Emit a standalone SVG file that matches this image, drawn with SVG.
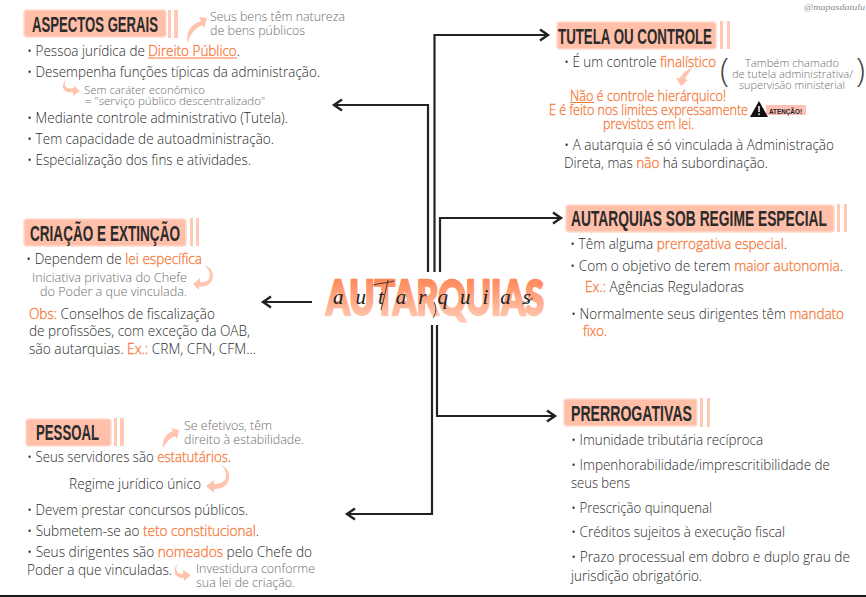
<svg xmlns="http://www.w3.org/2000/svg" width="866" height="597" viewBox="0 0 866 597">
<style>
text{font-family:"Open Sans","Noto Sans","Liberation Sans",sans-serif;font-weight:300;white-space:pre}
.b{font-size:14px;fill:#2b2b2b}
.g{font-size:12.5px;fill:#6e6e6e}
.s{font-size:11.500px;fill:#6e6e6e}
.o{fill:#f5793a;stroke:#f5793a;stroke-width:.3}
.t{font-family:"Liberation Sans Narrow","Liberation Sans",sans-serif;font-weight:700;font-size:22px;fill:#2b2b2b}
.box{fill:#ffbfa9;stroke:#ffd9cb;stroke-width:1.5}
.st{fill:#ffc9b6}
.a{fill:#ffc3ae}
.c{fill:none;stroke:#222;stroke-width:2.2}
.l{stroke:#f5793a;stroke-width:1;fill:none}
.f{fill:none;stroke:#222;stroke-width:.8}
</style>
<defs>
<marker id="h" markerUnits="userSpaceOnUse" markerWidth="14" markerHeight="14" refX="10" refY="7" orient="auto" overflow="visible">
<path d="M2 1.5L10 7L2 12.5" fill="none" stroke="#222" stroke-width="2.4"/>
</marker>
<linearGradient id="gr" x1="0" y1="0" x2="0" y2="1"><stop offset="0" stop-color="#ff7743"/><stop offset="1" stop-color="#ffd3bf"/></linearGradient>
</defs>
<rect width="866" height="597" fill="#fff"/>
<rect x="0" y="595" width="866" height="2" fill="#1a1a1a"/>
<g id="connectors">
<path class="c" marker-end="url(#h)" d="M428 272V105H334"/>
<path class="c" marker-end="url(#h)" d="M434.500 272V35H548"/>
<path class="c" marker-end="url(#h)" d="M440 272V218H561"/>
<path class="c" marker-end="url(#h)" d="M312 302H263"/>
<path class="c" marker-end="url(#h)" d="M432 325V514H347"/>
<path class="c" marker-end="url(#h)" d="M437 325V416H555"/>
</g>
<g id="center">
<text x="326" y="315" textLength="218" lengthAdjust="spacingAndGlyphs" fill="url(#gr)" stroke="url(#gr)" stroke-width="2.500" stroke-linejoin="round" style="font-family:Lato,'Liberation Sans',sans-serif;font-weight:900;font-size:47px">AUTARQUIAS</text>
<text x="333" y="304" textLength="198" style="font-family:'Liberation Serif',serif;font-style:italic;font-size:21px;font-weight:400;fill:#222">autarquias</text>
<path class="f" d="M373 285C380 283 388 283 394 281M388 280C386 290 383 302 381 310M434 302C437 307 436 314 433 318M522 304C526 303 530 300 533 298"/>
</g>
<g id="aspectos-gerais">
<rect class="box" x="24" y="10" width="142" height="27" rx="3"/>
<rect class="st" x="168" y="10" width="3" height="28"/><rect class="st" x="174" y="10" width="4" height="28"/>
<text class="t" x="32" y="32" textLength="126" lengthAdjust="spacingAndGlyphs">ASPECTOS GERAIS</text>
<path class="a" d="M188 43C185 31 193 23 201 21L199 17L207 18L204 28L202 25C196 28 190 33 188 43Z"/>
<text class="g" x="210" y="21" textLength="135" lengthAdjust="spacingAndGlyphs">Seus bens têm natureza</text>
<text class="g" x="210" y="35" textLength="95" lengthAdjust="spacingAndGlyphs">de bens públicos</text>
<text class="b" x="27" y="56" textLength="213" lengthAdjust="spacingAndGlyphs">• Pessoa jurídica de <tspan class="o">Direito Público</tspan>.</text>
<path class="l" d="M148 58H237"/>
<text class="b" x="27" y="77" textLength="293" lengthAdjust="spacingAndGlyphs">• Desempenha funções típicas da administração.</text>
<path class="a" d="M67 79C62 85 66 90 74 88L73 85L80 91L73 96L73 92C64 94 59 86 67 79Z"/>
<text class="s" x="84" y="94" textLength="121" lengthAdjust="spacingAndGlyphs">Sem caráter econômico</text>
<text class="s" x="85" y="105" textLength="180" lengthAdjust="spacingAndGlyphs">= "serviço público descentralizado"</text>
<text class="b" x="27" y="123" textLength="261" lengthAdjust="spacingAndGlyphs">• Mediante controle administrativo (Tutela).</text>
<text class="b" x="27" y="144" textLength="247" lengthAdjust="spacingAndGlyphs">• Tem capacidade de autoadministração.</text>
<text class="b" x="27" y="165" textLength="224" lengthAdjust="spacingAndGlyphs">• Especialização dos fins e atividades.</text>
</g>
<g id="tutela-ou-controle">
<rect class="box" x="557" y="22" width="159" height="27" rx="3"/>
<rect class="st" x="720" y="21" width="3" height="28"/><rect class="st" x="727" y="21" width="3" height="28"/>
<text class="t" x="558" y="44" textLength="154" lengthAdjust="spacingAndGlyphs">TUTELA OU CONTROLE</text>
<text class="b" x="564" y="67" textLength="152" lengthAdjust="spacingAndGlyphs">• É um controle <tspan class="o">finalístico</tspan></text>
<path class="a" d="M692 68C689 73 686 76 685 79L688 80L681 86L676 78L680 78C682 74 686 70 692 68Z"/>
<text x="720" y="82" style="font-size:33px;fill:#444">(</text>
<text x="856" y="82" style="font-size:33px;fill:#444">)</text>
<text class="s" x="745" y="67" textLength="94" lengthAdjust="spacingAndGlyphs">Também chamado</text>
<text class="s" x="732" y="78" textLength="121" lengthAdjust="spacingAndGlyphs">de tutela administrativa/</text>
<text class="s" x="739" y="89" textLength="106" lengthAdjust="spacingAndGlyphs">supervisão ministerial</text>
<text class="b o" x="570" y="101" textLength="156" lengthAdjust="spacingAndGlyphs">Não é controle hierárquico!</text>
<path class="l" d="M570 102.500H594"/>
<text class="b o" x="549" y="115" textLength="199" lengthAdjust="spacingAndGlyphs">E é feito nos limites expressamente</text>
<text class="b o" x="603" y="129" textLength="91" lengthAdjust="spacingAndGlyphs">previstos em lei.</text>
<rect x="766" y="105" width="40" height="10" rx="1" fill="#ffc0b8"/>
<path d="M759 101L768 117H750Z" fill="#111"/>
<path d="M759 106V112M759 113.500V115" stroke="#fff" stroke-width="1.500"/>
<text x="769" y="114" textLength="33" lengthAdjust="spacingAndGlyphs" style="font-family:'Liberation Sans Narrow','Liberation Sans',sans-serif;font-size:8px;font-weight:700;fill:#222">ATENÇÃO!</text>
<text class="b" x="564" y="150" textLength="270" lengthAdjust="spacingAndGlyphs">• A autarquia é só vinculada à Administração</text>
<text class="b" x="564" y="168" textLength="204" lengthAdjust="spacingAndGlyphs">Direta, mas <tspan class="o">não</tspan> há subordinação.</text>
</g>
<g id="watermark"><text x="804" y="10" textLength="61" lengthAdjust="spacingAndGlyphs" style="font-family:'Liberation Serif',serif;font-style:italic;font-size:9px;font-weight:400;fill:#8a8a8a">@mapasdatulu</text></g>
<g id="criacao-e-extincao">
<rect class="box" x="24" y="219" width="162" height="27" rx="3"/>
<rect class="st" x="190" y="218" width="3" height="28"/><rect class="st" x="196" y="218" width="3" height="28"/>
<text class="t" x="30" y="241" textLength="150" lengthAdjust="spacingAndGlyphs">CRIAÇÃO E EXTINÇÃO</text>
<text class="b" x="26" y="264" textLength="176" lengthAdjust="spacingAndGlyphs">• Dependem de <tspan class="o">lei específica</tspan></text>
<path class="a" d="M204 265C213 268 215 276 211 282C207 287 202 287 199 286L199 290L193 284L200 278L200 282C206 283 210 280 210 275C210 271 208 268 204 265Z"/>
<text class="g" x="32" y="282" textLength="155" lengthAdjust="spacingAndGlyphs">Iniciativa privativa do Chefe</text>
<text class="g" x="40" y="296" textLength="147" lengthAdjust="spacingAndGlyphs">do Poder a que vinculada.</text>
<text class="b" x="29" y="319" textLength="186" lengthAdjust="spacingAndGlyphs"><tspan class="o">Obs:</tspan> Conselhos de fiscalização</text>
<text class="b" x="29" y="336" textLength="221" lengthAdjust="spacingAndGlyphs">de profissões, com exceção da OAB,</text>
<text class="b" x="29" y="354" textLength="227" lengthAdjust="spacingAndGlyphs">são autarquias. <tspan class="o">Ex.:</tspan> CRM, CFN, CFM...</text>
</g>
<g id="autarquias-sob-regime-especial">
<rect class="box" x="566" y="205" width="268" height="27" rx="3"/>
<rect class="st" x="837" y="204" width="3" height="28"/><rect class="st" x="844" y="204" width="3" height="28"/>
<text class="t" transform="translate(571 226) scale(1 1.470)" style="font-size:15px" textLength="256" lengthAdjust="spacingAndGlyphs">AUTARQUIAS SOB REGIME ESPECIAL</text>
<text class="b" x="570" y="249" textLength="217" lengthAdjust="spacingAndGlyphs">• Têm alguma <tspan class="o">prerrogativa especial</tspan>.</text>
<text class="b" x="570" y="271" textLength="273" lengthAdjust="spacingAndGlyphs">• Com o objetivo de terem <tspan class="o">maior autonomia</tspan>.</text>
<text class="b" x="585" y="292" textLength="159" lengthAdjust="spacingAndGlyphs"><tspan class="o">Ex.:</tspan> Agências Reguladoras</text>
<text class="b" x="571" y="319" textLength="273" lengthAdjust="spacingAndGlyphs">• Normalmente seus dirigentes têm <tspan class="o">mandato</tspan></text>
<text class="b" x="583" y="336" textLength="24" lengthAdjust="spacingAndGlyphs"><tspan class="o">fixo.</tspan></text>
</g>
<g id="pessoal">
<rect class="box" x="26" y="419" width="85" height="27" rx="3"/>
<rect class="st" x="114" y="418" width="3" height="28"/><rect class="st" x="120" y="418" width="4" height="28"/>
<text class="t" x="36" y="440" textLength="63" lengthAdjust="spacingAndGlyphs">PESSOAL</text>
<path class="a" d="M163 448C162 439 167 433 173 431L171 428L179 430L177 439L175 436C170 438 166 442 163 448Z"/>
<text class="g" x="184" y="430" textLength="88" lengthAdjust="spacingAndGlyphs">Se efetivos, têm</text>
<text class="g" x="184" y="444" textLength="120" lengthAdjust="spacingAndGlyphs">direito à estabilidade.</text>
<text class="b" x="27" y="462" textLength="204" lengthAdjust="spacingAndGlyphs">• Seus servidores são <tspan class="o">estatutários</tspan>.</text>
<path class="a" d="M220 464C229 468 231 476 228 482C225 488 219 489 214 489L214 493L206 486L214 480L214 484C220 484 225 482 226 477C227 472 224 467 220 464Z"/>
<text class="b" x="69" y="489" textLength="132" lengthAdjust="spacingAndGlyphs">Regime jurídico único</text>
<text class="b" x="27" y="515" textLength="221" lengthAdjust="spacingAndGlyphs">• Devem prestar concursos públicos.</text>
<text class="b" x="27" y="536" textLength="232" lengthAdjust="spacingAndGlyphs">• Submetem-se ao <tspan class="o">teto constitucional</tspan>.</text>
<text class="b" x="27" y="557" textLength="285" lengthAdjust="spacingAndGlyphs">• Seus dirigentes são <tspan class="o">nomeados</tspan> pelo Chefe do</text>
<text class="b" x="27" y="575" textLength="145" lengthAdjust="spacingAndGlyphs">Poder a que vinculadas.</text>
<path class="a" d="M180 562C174 567 175 574 183 574L183 570L191 575L184 581L184 578C174 579 171 568 180 562Z"/>
<text class="g" x="196" y="573" textLength="119" lengthAdjust="spacingAndGlyphs">Investidura conforme</text>
<text class="g" x="196" y="587" textLength="99" lengthAdjust="spacingAndGlyphs">sua lei de criação.</text>
</g>
<g id="prerrogativas">
<rect class="box" x="564" y="399" width="133" height="27" rx="3"/>
<rect class="st" x="700" y="398" width="3" height="29"/><rect class="st" x="707" y="398" width="3" height="29"/>
<text class="t" x="571" y="421" textLength="121" lengthAdjust="spacingAndGlyphs">PRERROGATIVAS</text>
<text class="b" x="571" y="445" textLength="192" lengthAdjust="spacingAndGlyphs">• Imunidade tributária recíproca</text>
<text class="b" x="571" y="470" textLength="259" lengthAdjust="spacingAndGlyphs">• Impenhorabilidade/imprescritibilidade de</text>
<text class="b" x="571" y="488" textLength="59" lengthAdjust="spacingAndGlyphs">seus bens</text>
<text class="b" x="571" y="513" textLength="141" lengthAdjust="spacingAndGlyphs">• Prescrição quinquenal</text>
<text class="b" x="571" y="537" textLength="214" lengthAdjust="spacingAndGlyphs">• Créditos sujeitos à execução fiscal</text>
<text class="b" x="571" y="562" textLength="279" lengthAdjust="spacingAndGlyphs">• Prazo processual em dobro e duplo grau de</text>
<text class="b" x="571" y="581" textLength="131" lengthAdjust="spacingAndGlyphs">jurisdição obrigatório.</text>
</g>
</svg>
